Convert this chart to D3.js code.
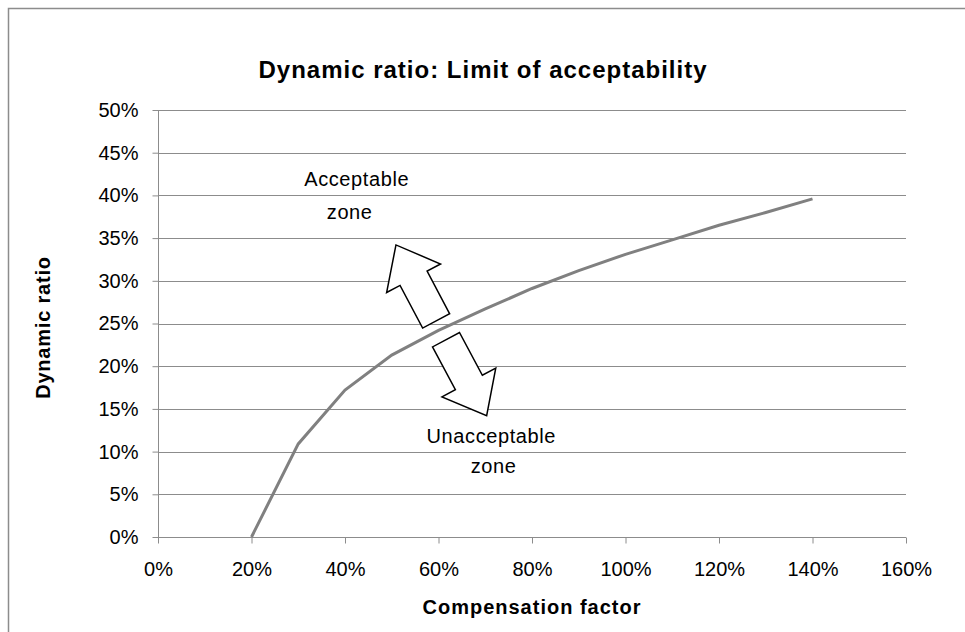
<!DOCTYPE html>
<html>
<head>
<meta charset="utf-8">
<script src="https://cdn.jsdelivr.net/npm/d3@7"></script>
<style>
  body { margin: 0; background: #fff; }
  svg text { font-family: "Liberation Sans", Arial, sans-serif; fill: #000; }
</style>
</head>
<body>
<svg id="chart" width="965" height="632"></svg>
<script>
// compensation factor (x) and dynamic ratio (y)
const factor = [0.2, 0.3, 0.4, 0.5, 0.6, 0.7, 0.8, 0.9, 1.0, 1.1, 1.2, 1.3, 1.4]
const ratio  = [0, 0.109, 0.172, 0.213, 0.242, 0.267, 0.291, 0.312, 0.331, 0.348, 0.365, 0.380, 0.396]

const xTicks = [0, 0.2, 0.4, 0.6, 0.8, 1.0, 1.2, 1.4, 1.6]
const yTicks = [0, 0.05, 0.1, 0.15, 0.2, 0.25, 0.3, 0.35, 0.4, 0.45, 0.5]

// block arrows: tail centre -> tip, in data units
const arrows = [
  {from: [0.595, 0.253], to: [0.509, 0.342]},
  {from: [0.616, 0.231], to: [0.703, 0.142]}
]
// zone labels, in data units
const notes = [
  {x: 0.425, y: 0.411, text: "Acceptable"},
  {x: 0.410, y: 0.372, text: "zone"},
  {x: 0.713, y: 0.110, text: "Unacceptable"},
  {x: 0.718, y: 0.075, text: "zone"}
]

const svg = d3.select("#chart")
const margin = {left: 158, right: 59, top: 110, bottom: 95}
const width = 965, height = 632

const x = d3.scaleLinear().domain([0, 1.6]).range([margin.left, width - margin.right])
const y = d3.scaleLinear().domain([0, 0.5]).range([height - margin.bottom, margin.top])
const pct = d3.format(".0%")

// chart frame
svg.append("rect")
  .attr("x", 8.5).attr("y", 8.5)
  .attr("width", 1000).attr("height", 700)
  .attr("fill", "none").attr("stroke", "#8c8c8c").attr("stroke-width", 1.5)

// gridlines
svg.append("g").selectAll("line")
  .data(yTicks.slice(1))
  .enter().append("line")
    .attr("x1", x(0)).attr("x2", x(1.6))
    .attr("y1", d => Math.round(y(d)) + 0.5).attr("y2", d => Math.round(y(d)) + 0.5)
    .attr("stroke", "#8c8c8c")

// y axis
const yAxis = svg.append("g")
  .attr("transform", `translate(${Math.round(x(0)) + 0.5},0)`)
  .call(d3.axisLeft(y).tickValues(yTicks).tickFormat(pct).tickSize(6).tickPadding(14))
// x axis
const xAxis = svg.append("g")
  .attr("transform", `translate(0,${Math.round(y(0)) + 0.5})`)
  .call(d3.axisBottom(x).tickValues(xTicks).tickFormat(pct).tickSize(6).tickPadding(18))

svg.selectAll(".domain").attr("stroke", "#8c8c8c")
yAxis.select(".domain").attr("d", `M0,${y(0.5)}V${y(0)}`)
xAxis.select(".domain").attr("d", `M${x(0)},0H${x(1.6)}`)
svg.selectAll(".tick line").attr("stroke", "#8c8c8c")
svg.selectAll(".tick text")
  .style("font-family", "'Liberation Sans', Arial, sans-serif")
  .style("font-size", "20px").attr("fill", "#000")

// the limit line
const line = d3.line().x((d, i) => x(factor[i])).y(d => y(d))
svg.append("path")
  .datum(ratio)
  .attr("d", line)
  .attr("fill", "none")
  .attr("stroke", "#808080")
  .attr("stroke-width", 3)

// block arrows
function arrowPath(a) {
  const t = [x(a.from[0]), y(a.from[1])], p = [x(a.to[0]), y(a.to[1])]
  const dx = p[0] - t[0], dy = p[1] - t[1]
  const L = Math.hypot(dx, dy)
  const ux = dx / L, uy = dy / L, nx = -uy, ny = ux
  const sw = 15.3, hw = 30.5, hl = 37.7
  const bx = t[0] + ux * (L - hl), by = t[1] + uy * (L - hl)
  const pts = [
    [t[0] + nx * sw, t[1] + ny * sw],
    [bx + nx * sw, by + ny * sw],
    [bx + nx * hw, by + ny * hw],
    p,
    [bx - nx * hw, by - ny * hw],
    [bx - nx * sw, by - ny * sw],
    [t[0] - nx * sw, t[1] - ny * sw]
  ]
  return "M" + pts.map(q => q.join(",")).join("L") + "Z"
}
svg.append("g").selectAll("path")
  .data(arrows)
  .enter().append("path")
    .attr("d", arrowPath)
    .attr("fill", "#fff")
    .attr("stroke", "#000")
    .attr("stroke-width", 1.5)
    .attr("stroke-linejoin", "miter")

// zone labels
svg.append("g").selectAll("text")
  .data(notes)
  .enter().append("text")
    .attr("x", d => x(d.x))
    .attr("y", d => y(d.y))
    .attr("text-anchor", "middle")
    .style("font-size", "20px")
    .style("letter-spacing", "0.6px")
    .text(d => d.text)

// title
svg.append("text")
  .attr("x", 483)
  .attr("y", 78)
  .attr("text-anchor", "middle")
  .style("font-size", "24px")
  .style("font-weight", "bold")
  .style("letter-spacing", "1px")
  .text("Dynamic ratio: Limit of acceptability")

// axis titles
svg.append("text")
  .attr("x", (x(0) + x(1.6)) / 2)
  .attr("y", 614)
  .attr("text-anchor", "middle")
  .style("font-size", "20px")
  .style("font-weight", "bold")
  .style("letter-spacing", "1px")
  .text("Compensation factor")

svg.append("text")
  .attr("transform", `translate(50,${(y(0) + y(0.5)) / 2 + 4}) rotate(-90)`)
  .attr("text-anchor", "middle")
  .style("font-size", "20px")
  .style("font-weight", "bold")
  .style("letter-spacing", "0.8px")
  .text("Dynamic ratio")
</script>
</body>
</html>
